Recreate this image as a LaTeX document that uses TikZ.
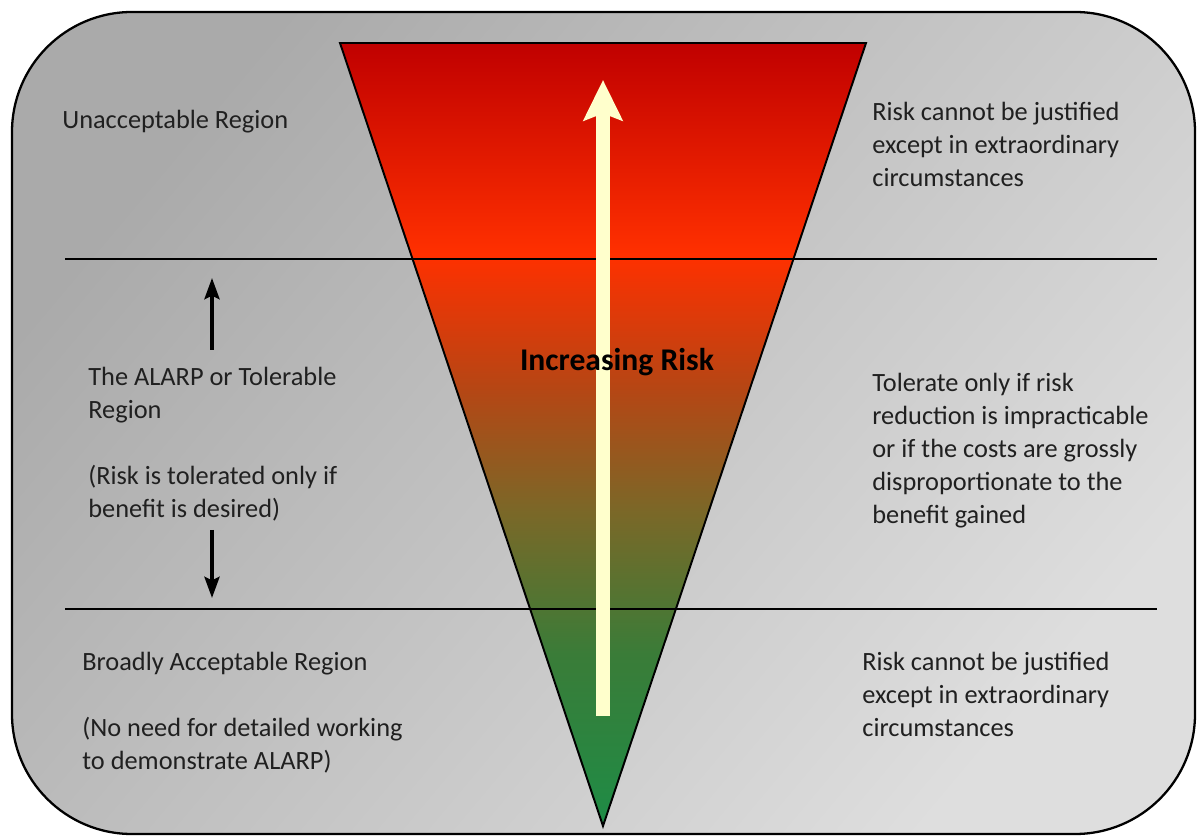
\documentclass[tikz,border=0pt]{standalone}
\usepackage{fontspec}
\setmainfont{Carlito}
\usetikzlibrary{arrows.meta}

\definecolor{txtgray}{RGB}{32,32,32}
\definecolor{cream}{RGB}{255,255,204}
\definecolor{bgdark}{RGB}{170,170,170}
\definecolor{bglight}{RGB}{222,222,222}
\definecolor{rkgreen}{RGB}{30,140,70}
\definecolor{rkgreenb}{RGB}{58,124,56}
\definecolor{rkolive}{RGB}{122,104,40}
\definecolor{rkbrown}{RGB}{182,70,20}
\definecolor{rkorange}{RGB}{255,48,0}
\definecolor{rkred}{RGB}{192,0,0}

% colour ramp of the risk triangle, green at the bottom, red at the top
\pgfdeclareverticalshading{riskfill}{100bp}{color(0bp)=(rkgreen); color(25bp)=(rkgreen); color(36bp)=(rkgreenb); color(45bp)=(rkolive); color(53bp)=(rkbrown); color(61.5bp)=(rkorange); color(75bp)=(rkred); color(100bp)=(rkred)}

\begin{document}
\begin{tikzpicture}[x=0.02cm, y=-0.02cm,
    every node/.style={text=txtgray, font=\fontsize{15}{18.8}\selectfont},
    note/.style={anchor=west, align=left, inner sep=0pt},
    divider/.style={line width=1.1pt, black},
    sidearrow/.style={-{Stealth[length=12pt, width=8.5pt, inset=2pt]}, line width=2.3pt, black},
    riskarrow/.style={-{Stealth[length=23pt, width=22pt, inset=4pt]}, line width=7.6pt, cream}]
    \useasboundingbox (0,0) rectangle (1197,837);

    % Background panel
    \draw[line width=1.3pt, rounded corners=2.4cm, top color=bgdark, bottom color=bglight, shading angle=50]
        (12,12) rectangle (1195,834);

    % Risk triangle
    \coordinate (tl) at (340,43);
    \coordinate (tr) at (866,43);
    \coordinate (tb) at (603,826);
    \draw[line width=1.1pt, shading=riskfill] (tl) -- (tr) -- (tb) -- cycle;

    % Region dividers
    \coordinate (d1w) at (65,259);
    \coordinate (d1e) at (1157,259);
    \coordinate (d2w) at (65,609);
    \coordinate (d2e) at (1157,609);
    \draw[divider] (d1w) -- (d1e);
    \draw[divider] (d2w) -- (d2e);

    % Increasing risk arrow
    \coordinate (rbase) at (603,716);
    \coordinate (rtip) at (603,80);
    \draw[riskarrow] (rbase) -- (rtip);
    \node[font=\fontsize{18}{22}\selectfont\bfseries, text=black] (incr) at (617,362) {Increasing Risk};

    % Left column
    \node[note] (unacc) at (62,122) {Unacceptable Region};
    \node[note] (alarp) at (88,444) {The ALARP or Tolerable\\Region\\[18.8pt](Risk is tolerated only if\\benefit is desired)};
    \node[note] (broad) at (82,713) {Broadly Acceptable Region\\[18.8pt](No need for detailed working\\to demonstrate ALARP)};

    % Right column
    \node[note] (rtop) at (872,144) {Risk cannot be justified\\except in extraordinary\\circumstances};
    \node[note] (rmid) at (872,451) {Tolerate only if risk\\reduction is impracticable\\or if the costs are grossly\\disproportionate to the\\benefit gained};
    \node[note] (rbot) at (862,694) {Risk cannot be justified\\except in extraordinary\\circumstances};

    % Extent of the tolerable region
    \coordinate (upbase) at (212,350);
    \coordinate (uptip) at (212,278);
    \coordinate (dnbase) at (212,530);
    \coordinate (dntip) at (212,598);
    \draw[sidearrow] (upbase) -- (uptip);
    \draw[sidearrow] (dnbase) -- (dntip);
\end{tikzpicture}
\end{document}
